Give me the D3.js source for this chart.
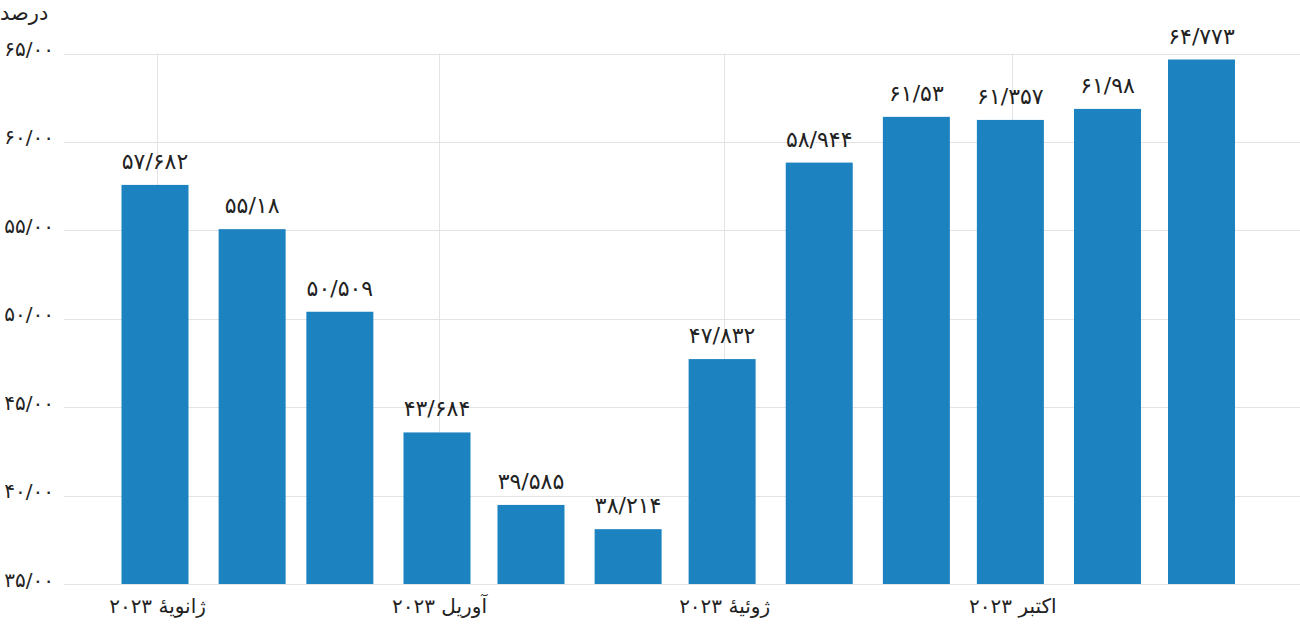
<!DOCTYPE html>
<html><head><meta charset="utf-8">
<script src="https://cdn.jsdelivr.net/npm/d3@7"></script>
<style>
html,body{margin:0;padding:0;background:#fff;}
svg text{font-family:"DejaVu Sans","Noto Sans",sans-serif;fill:#222;}
</style></head><body>
<svg id="c" width="1300" height="635"></svg>
<script>
const months = ["2023-01-01","2023-02-01","2023-03-01","2023-04-01","2023-05-01","2023-06-01","2023-07-01","2023-08-01","2023-09-01","2023-10-01","2023-11-01","2023-12-01"];
const values = [57.682,55.18,50.509,43.684,39.585,38.214,47.832,58.944,61.53,61.357,61.98,64.773];
const valueLabels = ["۵۷/۶۸۲","۵۵/۱۸","۵۰/۵۰۹","۴۳/۶۸۴","۳۹/۵۸۵","۳۸/۲۱۴","۴۷/۸۳۲","۵۸/۹۴۴","۶۱/۵۳","۶۱/۳۵۷","۶۱/۹۸","۶۴/۷۷۳"];
const yTicks = [35,40,45,50,55,60,65];
const yTickLabels = ["۳۵/۰۰","۴۰/۰۰","۴۵/۰۰","۵۰/۰۰","۵۵/۰۰","۶۰/۰۰","۶۵/۰۰"];
const xTickDates = ["2023-01-01","2023-04-01","2023-07-01","2023-10-01"];
const xTickLabels = ["ژانویهٔ ۲۰۲۳","آوریل ۲۰۲۳","ژوئیهٔ ۲۰۲۳","اکتبر ۲۰۲۳"];
const unitLabel = "درصد";

const svg = d3.select("#c");
const parse = d3.utcParse("%Y-%m-%d");
const x = d3.scaleUtc().domain([parse(months[0]), parse(months[11])]).range([155, 1201.5]);
const y = d3.scaleLinear().domain([35,65]).range([584, 53.5]);
const barW = 67;
const grid = "#e3e3e3";

// y axis labels
const yAxis = d3.axisLeft(y).tickValues(yTicks).tickSize(0).tickFormat((d,i)=>yTickLabels[i]);
const gy = svg.append("g").attr("transform","translate(55,0)").call(yAxis);
gy.select(".domain").remove();
gy.selectAll("text").attr("x",-1).attr("dy","0.1em").style("font-size","20px").style("font-family",'"DejaVu Sans",sans-serif').attr("fill","#222");

// horizontal grid
svg.append("g").selectAll("line").data(yTicks).join("line")
  .attr("x1",64).attr("x2",1300).attr("y1",d=>Math.round(y(d))+0.5).attr("y2",d=>Math.round(y(d))+0.5)
  .attr("stroke",grid).attr("stroke-width",1);

// vertical grid
svg.append("g").selectAll("line").data(xTickDates).join("line")
  .attr("x1",d=>Math.round(x(parse(d))+2)+0.5).attr("x2",d=>Math.round(x(parse(d))+2)+0.5)
  .attr("y1",y(65)).attr("y2",y(35))
  .attr("stroke",grid).attr("stroke-width",1);

// bars
svg.append("g").selectAll("rect").data(values).join("rect")
  .attr("x",(d,i)=>x(parse(months[i]))-barW/2)
  .attr("width",barW)
  .attr("y",d=>y(d)+2)
  .attr("height",d=>y(35)-y(d)-2)
  .attr("fill","#1c82c0");

// value labels
svg.append("g").selectAll("text").data(values).join("text")
  .attr("x",(d,i)=>x(parse(months[i])))
  .attr("y",d=>y(d)-14)
  .attr("text-anchor","middle")
  .style("font-size","22px")
  .text((d,i)=>valueLabels[i]);

// x axis labels
const xAxis = d3.axisBottom(x).tickValues(xTickDates.map(parse)).tickSize(0).tickFormat((d,i)=>xTickLabels[i]);
const gx = svg.append("g").attr("transform","translate(2,584)").call(xAxis);
gx.select(".domain").remove();
gx.selectAll("text").attr("dy","0").attr("y",29).style("font-size","20px").style("font-family",'"DejaVu Sans",sans-serif').attr("fill","#222");

// unit label
svg.append("text").attr("x",0).attr("y",20).attr("text-anchor","start").style("font-size","21px").text(unitLabel);
</script>
</body></html>
